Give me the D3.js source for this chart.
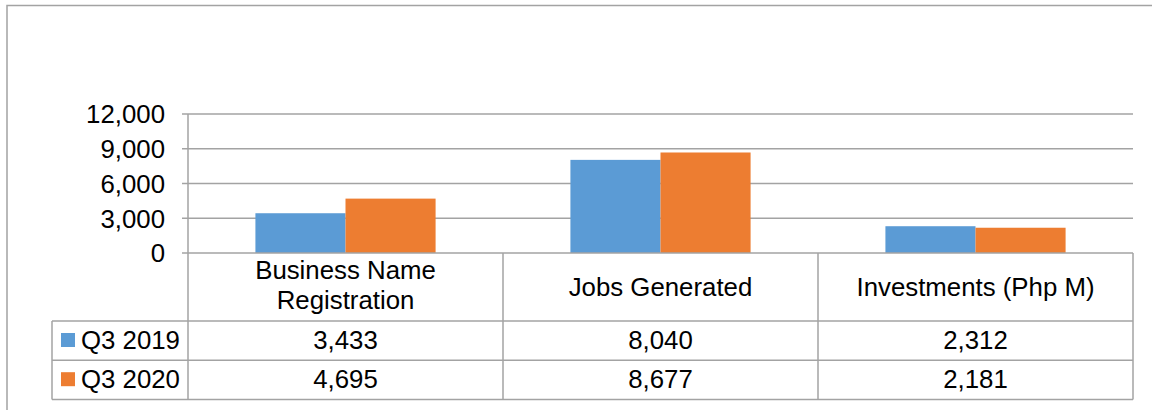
<!DOCTYPE html>
<html>
<head>
<meta charset="utf-8">
<script src="https://cdn.jsdelivr.net/npm/d3@7"></script>
<style>
	body { margin: 0; background: #fff; }
	text { font-family: "Liberation Sans", Arial, sans-serif; fill: #000; }
</style>
</head>
<body>
<script>
var categories = [['Business Name', 'Registration'], ['Jobs Generated'], ['Investments (Php M)']];
var series = ['Q3 2019', 'Q3 2020'];
var q3_2019 = [3433, 8040, 2312];
var q3_2020 = [4695, 8677, 2181];
var yTicks = [0, 3000, 6000, 9000, 12000];
var colors = ['#5B9BD5', '#ED7D31'];

var width = 1152, height = 410;
var gridColor = '#a3a3a3';
var fontSize = 25.8;

var svg = d3.select('body').append('svg').attr('width', width).attr('height', height);

// outer frame (runs off the right and bottom edges)
svg.append('rect')
	.attr('x', 7).attr('y', 5.5)
	.attr('width', 1200).attr('height', 500)
	.attr('fill', 'none').attr('stroke', gridColor).attr('stroke-width', 1.5);

var values = [q3_2019, q3_2020];
var catNames = categories.map(function(c) { return c.join(' '); });

var x0 = d3.scaleBand().domain(catNames).range([188, 1133]).padding(0);
var x1 = d3.scaleBand().domain(series)
	.range([x0.bandwidth() * 0.214, x0.bandwidth() * 0.786]).padding(0);
var y = d3.scaleLinear().domain([0, 12000]).range([253, 114]);

// gridlines
svg.append('g').selectAll('line').data(yTicks.filter(function(t) { return t > 0; })).enter().append('line')
	.attr('x1', 182).attr('x2', 1133)
	.attr('y1', function(d) { return y(d); }).attr('y2', function(d) { return y(d); })
	.attr('stroke', gridColor).attr('stroke-width', 1.5);

// y axis labels
svg.append('g').selectAll('text').data(yTicks).enter().append('text')
	.attr('x', 165).attr('y', function(d) { return y(d); })
	.attr('dy', '0.36em')
	.attr('text-anchor', 'end')
	.attr('font-size', fontSize)
	.text(function(d) { return d3.format(',')(d); });

// bars
series.forEach(function(s, si) {
	svg.append('g').selectAll('rect').data(values[si]).enter().append('rect')
		.attr('x', function(d, i) { return x0(catNames[i]) + x1(s); })
		.attr('y', function(d) { return y(d); })
		.attr('width', x1.bandwidth())
		.attr('height', function(d) { return y(0) - y(d); })
		.attr('fill', colors[si]);
});

// data table
var rowTop = 321, rowH = 39.2;
var tableBottom = rowTop + rowH * series.length;
var tbl = svg.append('g').attr('stroke', gridColor).attr('stroke-width', 1.5);

// horizontal lines
tbl.append('line').attr('x1', 182).attr('x2', 1133).attr('y1', y(0)).attr('y2', y(0));
d3.range(series.length + 1).forEach(function(r) {
	tbl.append('line').attr('x1', 52).attr('x2', 1133)
		.attr('y1', rowTop + r * rowH).attr('y2', rowTop + r * rowH);
});
// vertical lines
tbl.append('line').attr('x1', 188).attr('x2', 188).attr('y1', y(12000)).attr('y2', tableBottom);
tbl.append('line').attr('x1', 52).attr('x2', 52).attr('y1', rowTop).attr('y2', tableBottom);
catNames.forEach(function(c) {
	var xr = x0(c) + x0.bandwidth();
	tbl.append('line').attr('x1', xr).attr('x2', xr).attr('y1', y(0)).attr('y2', tableBottom);
});

// category headers
categories.forEach(function(lines, i) {
	var cx = x0(catNames[i]) + x0.bandwidth() / 2;
	var t = svg.append('text').attr('text-anchor', 'middle').attr('font-size', fontSize);
	if (lines.length === 2) {
		t.append('tspan').attr('x', cx).attr('y', 279).text(lines[0]);
		t.append('tspan').attr('x', cx).attr('y', 309).text(lines[1]);
	} else {
		t.attr('x', cx).attr('y', 296).text(lines[0]);
	}
});

// rows: legend key + values
series.forEach(function(s, si) {
	var base = rowTop + si * rowH;
	svg.append('rect').attr('x', 61).attr('y', base + 12).attr('width', 14).attr('height', 14)
		.attr('fill', colors[si]);
	svg.append('text').attr('x', 81).attr('y', base + 27.5)
		.attr('font-size', fontSize).text(s);
	svg.append('g').selectAll('text').data(values[si]).enter().append('text')
		.attr('x', function(d, i) { return x0(catNames[i]) + x0.bandwidth() / 2; })
		.attr('y', base + 27.5)
		.attr('text-anchor', 'middle')
		.attr('font-size', fontSize)
		.text(function(d) { return d3.format(',')(d); });
});
</script>
</body>
</html>
